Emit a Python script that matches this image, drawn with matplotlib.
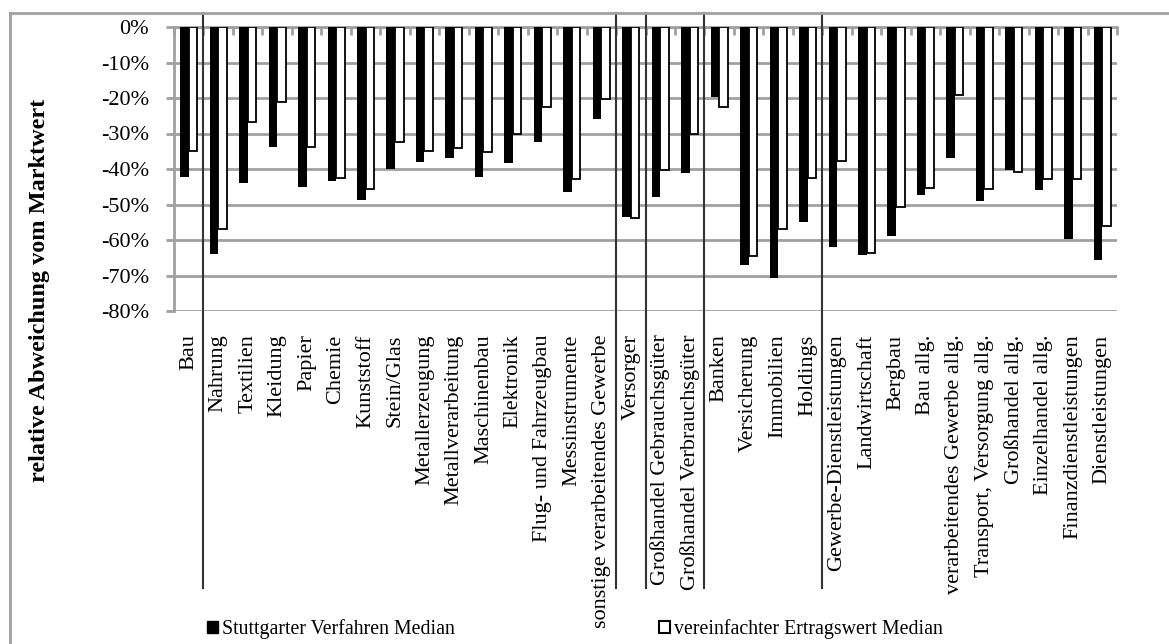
import numpy as np
import matplotlib.pyplot as plt
from matplotlib.patches import Patch
from matplotlib.lines import Line2D

categories = ["Bau", "Nahrung", "Textilien", "Kleidung", "Papier", "Chemie",
              "Kunststoff", "Stein/Glas", "Metallerzeugung", "Metallverarbeitung",
              "Maschinenbau", "Elektronik", "Flug- und Fahrzeugbau", "Messinstrumente",
              "sonstige verarbeitendes Gewerbe", "Versorger",
              "Großhandel Gebrauchsgüter", "Großhandel Verbrauchsgüter",
              "Banken", "Versicherung", "Immobilien", "Holdings",
              "Gewerbe-Dienstleistungen", "Landwirtschaft", "Bergbau", "Bau allg.",
              "verarbeitendes Gewerbe allg.", "Transport, Versorgung allg.",
              "Großhandel allg.", "Einzelhandel allg.", "Finanzdienstleistungen",
              "Dienstleistungen"]

stuttgarter = [-42.2, -63.9, -43.9, -33.7, -45.2, -43.3, -48.7, -40.0, -37.9, -37.0,
               -42.3, -38.4, -32.3, -46.4, -25.9, -53.6, -48.0, -41.1, -19.6, -67.0,
               -70.8, -54.8, -61.9, -64.2, -58.8, -47.2, -36.8, -48.9, -40.3, -45.9,
               -59.8, -65.6]
ertragswert = [-34.8, -56.8, -26.8, -21.0, -33.7, -42.4, -45.6, -32.5, -34.8, -34.2,
               -35.1, -30.1, -22.5, -42.8, -20.3, -53.9, -40.3, -30.0, -22.4, -64.4,
               -56.8, -42.4, -37.7, -63.8, -50.6, -45.3, -19.2, -45.6, -40.9, -42.8,
               -42.8, -56.1]

# group boundaries (after these category indices)
group_ends = [1, 15, 16, 18, 22]

series_names = ["Stuttgarter Verfahren Median", "vereinfachter Ertragswert Median"]

plt.rcParams['font.family'] = ['Liberation Serif', 'DejaVu Serif']

W, H = 1169, 644
fig = plt.figure(figsize=(W / 100, H / 100), dpi=100)
x0, x1, y0, y1 = 174, 1117, 27, 311
ax = fig.add_axes([x0 / W, 1 - y1 / H, (x1 - x0) / W, (y1 - y0) / H])

grid_c = '#a0a0a0'
n = len(categories)
x = np.arange(n)
bw = 0.29
ax.bar(x - bw / 2, stuttgarter, bw, color='black', zorder=3)
ax.bar(x + bw / 2, ertragswert, bw, color='white', edgecolor='black', linewidth=1.3, zorder=3)

ax.set_xlim(-0.5, n - 0.5)
ax.set_ylim(-80, 0)
yt = np.arange(-80, 1, 10)
ax.set_yticks(yt)
ax.set_yticklabels([f"{v}%" for v in yt], fontsize=16)
for v in yt:
    ax.axhline(v, color=grid_c, lw=2, zorder=1)

ax.set_xticks(x)
ax.set_xticklabels(categories, rotation=90, fontsize=16, va='top')
ax.tick_params(axis='x', which='major', length=0, pad=17)
ax.set_xticks(np.arange(-0.5, n, 1), minor=True)
ax.tick_params(axis='x', which='minor', top=True, bottom=False, direction='in',
               length=6, width=2, color=grid_c)
ax.tick_params(axis='y', length=6, width=2, color=grid_c, pad=12)

for s in ['right', 'bottom']:
    ax.spines[s].set_visible(False)
ax.spines['left'].set_color(grid_c)
ax.spines['left'].set_linewidth(2)
ax.spines['top'].set_color(grid_c)
ax.spines['top'].set_linewidth(2)

fig.text(40 / W, 1 - 290 / H, "relative Abweichung vom Marktwert", fontsize=17.5,
         fontweight='bold', rotation=90, ha='center', va='center')

# group separators extending above and below the plot
h = y1 - y0
for g in group_ends:
    ax.axvline(g - 0.5, ymin=-(588 - y1) / h, ymax=1 + (y0 - 13) / h,
               color='#333333', lw=1.5, clip_on=False, zorder=4)

# outer frame (top and left only visible)
fig.add_artist(Line2D([10 / W, 10 / W], [0, 1 - 13 / H], color=grid_c, lw=2))
fig.add_artist(Line2D([10 / W, 1], [1 - 13 / H, 1 - 13 / H], color=grid_c, lw=2))

handles = [Patch(facecolor='black', edgecolor='black'),
           Patch(facecolor='white', edgecolor='black', linewidth=1.5)]
fig.legend(handles, series_names, loc='center left', bbox_to_anchor=(207 / W, 1 - 629 / H),
           ncol=2, frameon=False, fontsize=14.3, handlelength=0.55, handleheight=0.55,
           handletextpad=0.2, columnspacing=10.3, borderpad=0, borderaxespad=0)

fig.savefig("out.png", dpi=100)
